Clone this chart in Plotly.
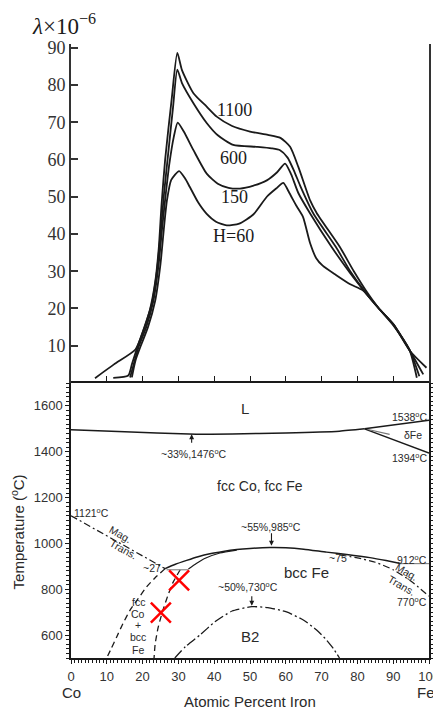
import plotly.graph_objects as go

SERIF = "Liberation Serif, Times New Roman, serif"
SANS = "Liberation Sans, Arial, sans-serif"
INK = "#1a1a1a"
TXT = "#2a2a2a"

# ---------------- top panel: magnetostriction (lambda x 1e-6) vs at.% Fe ----------------
curve_names = ["1100", "600", "150", "H=60"]
x_1100 = [6.7, 12, 18, 20, 22, 23.5, 24.5, 25.3, 26.3, 28.1, 29.7, 31, 34.2, 37.9, 40.7, 45, 50, 55, 58.5,
          61.2, 63.5, 66.8, 68.7, 75.1, 79, 82.8, 86, 90, 94.7, 99.3]
l_1100 = [1.3, 5, 9, 13.5, 19.5, 27, 36, 48, 60, 76, 88.6, 84, 77.8, 74.2, 71.5, 69, 67.5, 66.6, 65.8,
          63.4, 58, 49, 45.5, 36.5, 30, 24.2, 20, 15.8, 8.6, 4.1]
x_600 = [11.8, 16, 17, 18.5, 20.5, 22.5, 24, 25, 26, 27.3, 28.5, 29.7, 31, 34.2, 37.9, 41, 45.3, 51.9, 56,
         58.4, 60.5, 62.5, 64, 67.7, 74, 78, 82.5, 86, 90, 94.7, 98.4]
l_600 = [1.4, 2, 5, 9.5, 15, 21, 30, 40, 51, 63, 74, 84.1, 80.5, 75.1, 69.8, 66.5, 63.9, 63.4, 63,
         62.5, 60.5, 56.5, 53, 45.5, 36.5, 30, 24, 20, 15.8, 8.6, 2.3]
x_150 = [16.5, 17.5, 19, 21, 23, 24.5, 25.5, 26.5, 27.5, 28.7, 29.8, 31.5, 34.2, 37.9, 41, 44, 47.2, 51,
         54.7, 57.5, 59.8, 61.5, 63.5, 66.8, 72.8, 78, 82.5, 86, 90, 94.7, 97.3]
l_150 = [1.5, 5, 10, 15, 22, 32, 42, 51, 59, 66, 69.9, 67.5, 62.5, 56.2, 53.5, 52.4, 52.2, 53,
         54.4, 56.5, 58.9, 56, 51, 45.5, 36.5, 29.5, 24, 20, 15.8, 8.6, 1.8]
x_60 = [17, 18, 19.5, 21.5, 23.5, 25, 26, 26.8, 28, 30.2, 31.8, 33.2, 35.5, 37.9, 40.5, 43.5, 47, 51,
        54.7, 57.3, 59.3, 61, 63, 64.8, 66.8, 68.5, 70.3, 74, 78, 81.6, 86, 90, 94.5, 96.6]
l_60 = [1.5, 6, 10, 15, 22, 32, 42, 49, 54.5, 56.9, 55, 52.6, 48.5, 45.4, 43.3, 42.3, 42.8, 45.3,
        50, 52.2, 53.7, 51, 47.5, 44.6, 37.5, 33.5, 31.5, 29, 26.5, 24.8, 20, 15.5, 9, 1.4]
top_ticks = [10, 20, 30, 40, 50, 60, 70, 80, 90]

# ---------------- bottom panel: Co-Fe phase diagram ----------------
liq_x = [0, 15, 33, 45, 60, 75, 82]
liq_T = [1496, 1487, 1477, 1478, 1482, 1490, 1500]
dup_x = [82, 100]
dup_T = [1500, 1538]
dlo_x = [82, 100]
dlo_T = [1500, 1394]
dmid_x = [83, 89]
dmid_T = [1497, 1476]
magL_x = [0, 26.3]
magL_T = [1121, 890]
solvL_x = [26.3, 23.5, 21.1, 18.8, 16.5, 14.5, 12.8, 11.2, 10]
solvL_T = [890, 850, 810, 760, 709, 650, 593, 540, 501]
solvR_x = [30.5, 28.5, 27, 25.5, 24.3, 23.5, 23.2]
solvR_T = [885, 830, 770, 700, 630, 560, 500]
h27_x = [26.7, 32.8]
h27_T = [885, 885]
gaU_x = [26.3, 29, 32.3, 35.5, 38.8, 42.5, 46.3, 50, 55.5, 60, 65, 71.4, 77, 83.5, 88, 92]
gaU_T = [890, 908, 926, 942, 955, 965, 973, 978, 982, 981, 975, 962, 952, 938, 925, 912]
gaL_x = [32.8, 35, 37.5, 41.6, 46.3]
gaL_T = [888, 912, 935, 958, 971]
h912_x = [92, 100]
h912_T = [912, 912]
magR_x = [75, 80, 85, 90, 95, 100]
magR_T = [950, 937, 918, 885, 835, 770]
b2_x = [29, 32, 36, 40.2, 45, 50.5, 55, 60.2, 65, 68.6, 71, 73.2, 75]
b2_T = [500, 550, 600, 658, 705, 724, 720, 701, 665, 622, 585, 543, 500]
mark_x = [30.2, 25.1]
mark_T = [839, 698]

fig = go.Figure()

top_series = [(x_1100, l_1100), (x_600, l_600), (x_150, l_150), (x_60, l_60)]
for name, (xs, ls) in zip(curve_names, top_series):
    fig.add_trace(go.Scatter(x=xs, y=ls, mode="lines", name=name, xaxis="x2", yaxis="y2",
                             line=dict(color=INK, width=1.8, shape="spline", smoothing=0.6),
                             showlegend=False, hoverinfo="skip"))


def pline(xs, ts, dash="solid", width=1.4, color=INK):
    fig.add_trace(go.Scatter(x=xs, y=ts, mode="lines", xaxis="x", yaxis="y",
                             line=dict(color=color, width=width, dash=dash, shape="spline", smoothing=0.5),
                             showlegend=False, hoverinfo="skip"))


pline(liq_x, liq_T, width=1.5)
pline(dup_x, dup_T, width=1.5)
pline(dlo_x, dlo_T, width=1.5)
pline(dmid_x, dmid_T, width=1.2, color="#777")
pline(magL_x, magL_T, dash="7px,3px,2px,3px", width=1.2)
pline(solvL_x, solvL_T, dash="6px,4px", width=1.3)
pline(solvR_x, solvR_T, dash="6px,4px", width=1.3)
pline(h27_x, h27_T, width=1.2, color="#888")
pline(gaU_x, gaU_T, width=1.5)
pline(gaL_x, gaL_T, width=1.2)
pline(h912_x, h912_T, width=1.2, color="#888")
pline(magR_x, magR_T, dash="7px,3px,2px,3px", width=1.2)
pline(b2_x, b2_T, dash="10px,3px,2px,3px", width=1.3)

fig.add_trace(go.Scatter(x=mark_x, y=mark_T, mode="markers", xaxis="x", yaxis="y",
                         marker=dict(symbol="x-thin", size=20, line=dict(width=2.5, color="red")),
                         showlegend=False, hoverinfo="skip"))

ann = []


def lab(x, y, text, size=10.5, xanchor="center", angle=0, font=SANS, xref="x", yref="y", color=TXT,
        yanchor="middle"):
    ann.append(dict(x=x, y=y, xref=xref, yref=yref, text=text, showarrow=False, xanchor=xanchor,
                    yanchor=yanchor, textangle=angle, font=dict(family=font, size=size, color=color)))


def arrow(x, y, ay):
    ann.append(dict(x=x, y=y, xref="x", yref="y", text="", showarrow=True, ax=0, ay=ay,
                    arrowhead=2, arrowsize=0.9, arrowwidth=1.1, arrowcolor=INK))


# top panel labels
lab(45.8, 73.3, "1100", size=18, font=SERIF, xref="x2", yref="y2", color=INK)
lab(45.5, 60.3, "600", size=18, font=SERIF, xref="x2", yref="y2", color=INK)
lab(45.8, 50.0, "150", size=18, font=SERIF, xref="x2", yref="y2", color=INK)
lab(45.5, 39.4, "H=60", size=18, font=SERIF, xref="x2", yref="y2", color=INK)
lab(-0.115, 1.005, "<i>λ</i>×10<sup>−6</sup>", size=23, font=SERIF, xanchor="left",
    xref="paper", yref="paper", color=INK, yanchor="bottom")

# phase diagram labels
lab(48.6, 1587, "L", size=15)
lab(34.4, 1394, "~33%,1476<sup>o</sup>C", size=10.5)
arrow(33.7, 1476, 10)
lab(100, 1553, "1538<sup>o</sup>C", size=10.5, xanchor="right")
lab(95.5, 1474, "δFe", size=10.5)
lab(100, 1374, "1394<sup>o</sup>C", size=10.5, xanchor="right")
lab(52.8, 1252, "fcc Co, fcc Fe", size=14)
lab(0.3, 1136, "1121<sup>o</sup>C", size=10.5, xanchor="left")
lab(13.7, 1042, "Mag.", size=10.5, angle=29)
lab(14.6, 977, "Trans.", size=10.5, angle=29)
lab(25.6, 891, "~27", size=10.5, xanchor="right")
lab(56, 1075, "~55%,985<sup>o</sup>C", size=10.5)
arrow(56, 990, -14)
lab(74.6, 935, "~75", size=10.5)
lab(100, 930, "912<sup>o</sup>C", size=10.5, xanchor="right")
lab(93.8, 875, "Mag.", size=10.5, angle=30)
lab(92.2, 817, "Trans.", size=10.5, angle=30)
lab(100, 745, "770<sup>o</sup>C", size=10.5, xanchor="right")
lab(65.8, 875, "bcc Fe", size=15)
lab(49.5, 810, "~50%,730<sup>o</sup>C", size=10.5)
arrow(50.5, 728, -11)
lab(50, 593, "B2", size=15)
for txt, t in zip(["fcc", "Co", "+", "bcc", "Fe"], [745, 694, 643, 590, 537]):
    lab(18.8, t, txt, size=10.5)

# axis titles / end labels
lab(0, -0.057, "Co", size=15, xref="x", yref="paper")
lab(99.2, -0.057, "Fe", size=15, xref="x", yref="paper")
lab(0.5, -0.071, "Atomic Percent Iron", size=15, xref="paper", yref="paper")
lab(-0.150, 0.205, "Temperature (<sup>o</sup>C)", size=15, angle=-90, xref="paper", yref="paper")

split = 275 / 614

# page body has an 8px margin: figure is drawn 8px in from the window's corner
fig.update_layout(
    width=433, height=701,
    margin=dict(l=63, r=12, t=36, b=51, autoexpand=False),
    paper_bgcolor="white", plot_bgcolor="white",
    showlegend=False,
    annotations=ann,
    xaxis=dict(domain=[0, 1], anchor="y", range=[0, 100], showline=True, linecolor=INK, linewidth=1.5,
               mirror=True, ticks="outside", ticklen=4, tickcolor=INK, tickwidth=1.2, dtick=10, tick0=0,
               minor=dict(dtick=1, ticklen=3, ticks="outside", tickcolor=INK, tickwidth=0.8),
               ticklabelstandoff=2,
               tickfont=dict(family=SANS, size=13, color="#333"), showgrid=False, zeroline=False),
    yaxis=dict(domain=[0, split], anchor="x", range=[500, 1700], showline=True, linecolor=INK,
               linewidth=1.5, mirror="allticks", ticks="outside", ticklen=4, tickcolor=INK, tickwidth=1.2,
               dtick=200, tick0=0,
               minor=dict(dtick=20, ticklen=3, ticks="outside", tickcolor=INK, tickwidth=0.8),
               tickfont=dict(family=SANS, size=13, color="#333"), showgrid=False, zeroline=False),
    xaxis2=dict(domain=[0, 1], anchor="y2", range=[0, 100], showline=False, ticks="inside",
                tickvals=top_ticks, showticklabels=False, ticklen=7, tickcolor=INK, tickwidth=1.3,
                showgrid=False, zeroline=False),
    yaxis2=dict(domain=[split, 1], anchor="x2", range=[0, 91], showline=True, linecolor="#333",
                linewidth=2, mirror=True, ticks="inside", ticklen=7, tickcolor="#333", tickwidth=1.5,
                tickvals=top_ticks, tickfont=dict(family=SERIF, size=18, color="#333"),
                showgrid=False, zeroline=False),
)

fig.write_html("out.html")
